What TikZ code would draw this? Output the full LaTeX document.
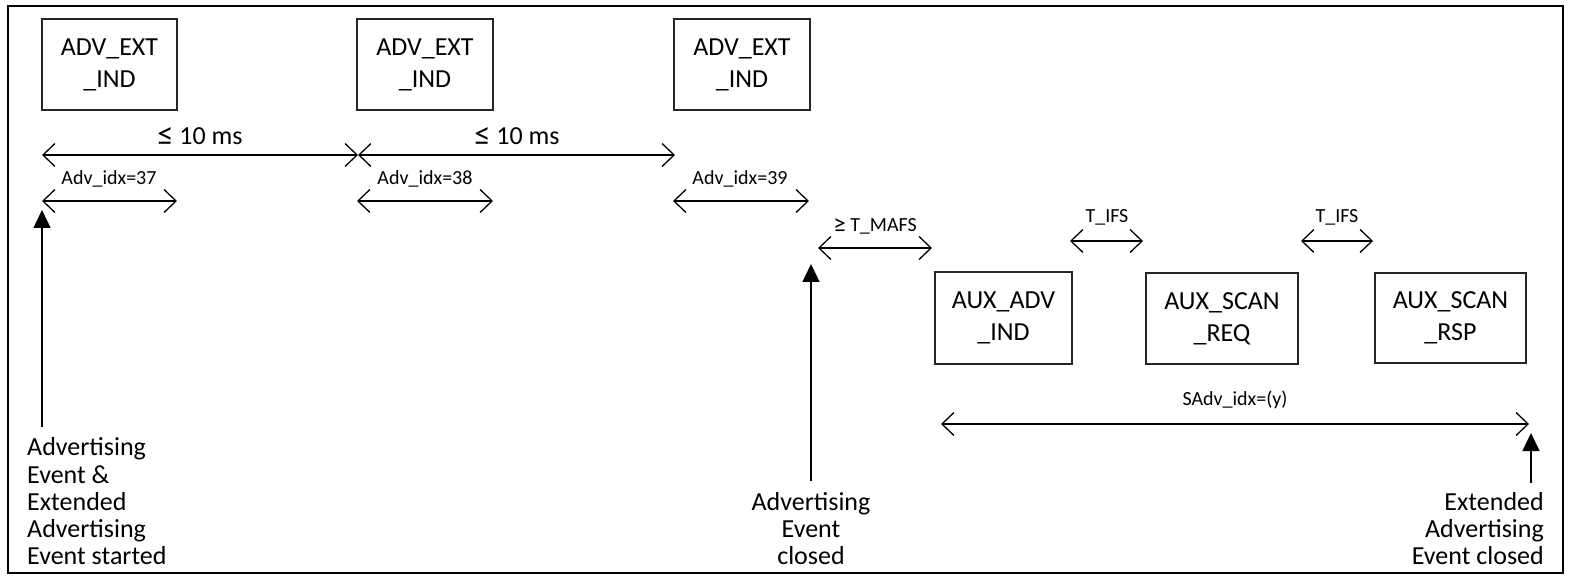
\documentclass[tikz,border=0pt]{standalone}
\usepackage{fontspec}
\setmainfont{Carlito}
\usetikzlibrary{arrows.meta}
\newcommand{\bigle}{\raisebox{-0.5pt}{\scalebox{1.25}{≤}}}
\newcommand{\bigge}{\raisebox{-0.5pt}{\scalebox{1.25}{≥}}}
\begin{document}
\begin{tikzpicture}[x=1pt,y=-1pt,
  box/.style={draw=black!85, line width=1.4pt, align=center, inner sep=0pt,
    font=\fontsize{26}{32}\selectfont},
  dim/.style={line width=1.3pt,
    {Straight Barb[length=12pt,width=23pt,line width=1.3pt]}-{Straight Barb[length=12pt,width=23pt,line width=1.3pt]}},
  lbl/.style={font=\fontsize{20}{23}\selectfont, anchor=base, inner sep=0pt},
  big/.style={font=\fontsize{26}{30}\selectfont, anchor=base, inner sep=0pt},
  up/.style={line width=1.4pt, -{Triangle[length=18pt,width=17pt]}},
  note/.style={font=\fontsize{26}{27.2}\selectfont, inner sep=0pt}]
\useasboundingbox (0,0) rectangle (1575,588);
\draw[line width=2.5pt] (8,6) rectangle (1563,573);

% boxes
\node[box, minimum width=135pt, minimum height=91pt] (b1) at (109.5,64.5) {ADV\_EXT\\\_IND};
\node[box, minimum width=136pt, minimum height=91pt] (b2) at (425,64.5) {ADV\_EXT\\\_IND};
\node[box, minimum width=136pt, minimum height=91pt] (b3) at (742,64.5) {ADV\_EXT\\\_IND};
\node[box, minimum width=137pt, minimum height=92pt] (c1) at (1003.5,318) {AUX\_ADV\\\_IND};
\node[box, minimum width=152pt, minimum height=91pt] (c2) at (1222,318.5) {AUX\_SCAN\\\_REQ};
\node[box, minimum width=151pt, minimum height=90pt] (c3) at (1450.5,318) {AUX\_SCAN\\\_RSP};

% coordinates
\coordinate (t0) at (42,155);
\coordinate (t1) at (358,155);
\coordinate (t2) at (675,155);
\coordinate (i1a) at (42,201);  \coordinate (i1b) at (177,201);
\coordinate (i2a) at (357,201); \coordinate (i2b) at (493,201);
\coordinate (i3a) at (673,201); \coordinate (i3b) at (809,201);
\coordinate (ma) at (818,248);  \coordinate (mb) at (932,248);
\coordinate (f1a) at (1070,241); \coordinate (f1b) at (1143,241);
\coordinate (f2a) at (1301,241); \coordinate (f2b) at (1373,241);
\coordinate (sa) at (941,424);  \coordinate (sb) at (1529,424);
\coordinate (u1a) at (42,427);  \coordinate (u1b) at (42,210);
\coordinate (u2a) at (811,481); \coordinate (u2b) at (811,264);
\coordinate (u3a) at (1531,483); \coordinate (u3b) at (1531,433);

% dimension arrows
\draw[dim] (t0) -- (t1);
\draw[dim] (t1) -- (t2);
\node[big] (l1) at (200,145) {\bigle{} 10 ms};
\node[big] (l2) at (517,145) {\bigle{} 10 ms};
\draw[dim] (i1a) -- (i1b);
\draw[dim] (i2a) -- (i2b);
\draw[dim] (i3a) -- (i3b);
\node[lbl] (a1) at (109,185) {Adv\_idx=37};
\node[lbl] (a2) at (425,185) {Adv\_idx=38};
\node[lbl] (a3) at (740,185) {Adv\_idx=39};
\draw[dim] (ma) -- (mb);
\node[lbl] (lm) at (875,232) {\bigge{} T\_MAFS};
\draw[dim] (f1a) -- (f1b);
\node[lbl] (lf1) at (1107,223) {T\_IFS};
\draw[dim] (f2a) -- (f2b);
\node[lbl] (lf2) at (1337,223) {T\_IFS};
\draw[dim] (sa) -- (sb);
\node[lbl] (ls) at (1235,405) {SAdv\_idx=(y)};

% event arrows
\draw[up] (u1a) -- (u1b);
\draw[up] (u2a) -- (u2b);
\draw[up] (u3a) -- (u3b);

\node[note, align=left, anchor=south west] (n1) at (27,565)
  {Advertising\\Event \&\\Extended\\Advertising\\Event started};
\node[note, align=center, anchor=south] (n2) at (811,565)
  {Advertising\\Event\\closed};
\node[note, align=right, anchor=south east] (n3) at (1544,565)
  {Extended\\Advertising\\Event closed};
\end{tikzpicture}
\end{document}
